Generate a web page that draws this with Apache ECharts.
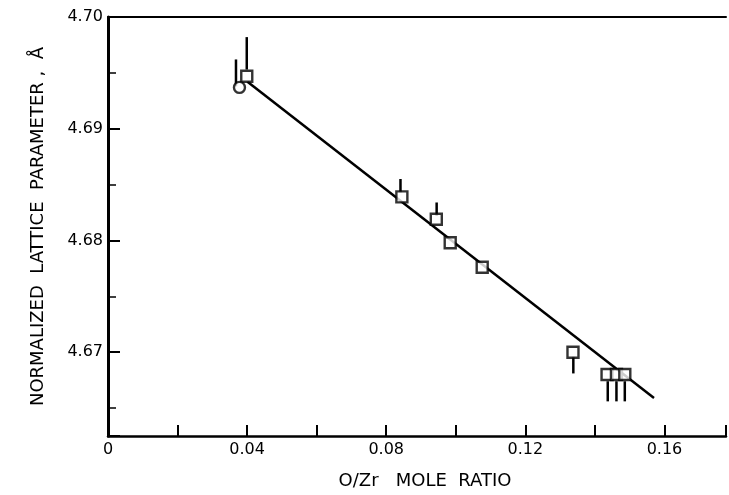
<!DOCTYPE html>
<html><head><meta charset="utf-8">
<script src="https://cdn.jsdelivr.net/npm/echarts@6/dist/echarts.min.js"></script>
<style>html,body{margin:0;padding:0;background:#fff}#c{width:729px;height:495px}</style>
</head><body><div id="c"></div>
<script>
// Tick labels
const xTickLabels = ['0', '0.04', '0.08', '0.12', '0.16'];
const yTickLabels = ['4.67', '4.68', '4.69', '4.70'];
// Square data points (O/Zr ratio, lattice parameter)
const squareX = [0.0399, 0.0845, 0.0944, 0.0984, 0.1076, 0.1337, 0.1435, 0.1462, 0.1486];
const squareY = [4.6947, 4.6839, 4.6819, 4.6798, 4.6776, 4.6700, 4.6680, 4.6680, 4.6680];
// Circle data point
const circleX = [0.0378];
const circleY = [4.6937];
// Error bars (x, low, high)
const barX = [0.0399, 0.0368, 0.0841, 0.0945, 0.1338, 0.1437, 0.1462, 0.1486];
const barLow = [4.6953, 4.6938, 4.6843, 4.6822, 4.6681, 4.6656, 4.6656, 4.6656];
const barHigh = [4.6982, 4.6962, 4.6855, 4.6834, 4.6696, 4.6674, 4.6674, 4.6674];
// Fitted line end points
const fitX = [0.0401, 0.157];
const fitY = [4.6942, 4.6659];

const FONT = 'DejaVu Sans';
function matchLabel(list, v) {
  for (const s of list) { if (Math.abs(parseFloat(s) - v) < 1e-7) return s; }
  return '';
}

const chart = echarts.init(document.getElementById('c'), null, {renderer: 'canvas'});
chart.setOption({
  animation: false,
  backgroundColor: '#fff',
  grid: {left: 108, right: 0, top: 17, bottom: 57, containLabel: false},
  xAxis: [{
    type: 'value', min: 0, max: 0.1777, interval: 0.02,
    name: 'O/Zr   MOLE  RATIO', nameLocation: 'middle', nameGap: 36,
    nameTextStyle: {fontFamily: FONT, fontSize: 18, color: '#000', padding: [0, 0, 0, 16]},
    axisLine: {show: true, lineStyle: {color: '#000', width: 2.5}},
    axisTick: {show: true, inside: true, length: 11, lineStyle: {color: '#000', width: 2}},
    axisLabel: {fontFamily: FONT, fontSize: 16, color: '#000', margin: 6,
      formatter: v => matchLabel(xTickLabels, v)},
    splitLine: {show: false}
  }, {
    type: 'value', position: 'top', min: 0, max: 0.1777,
    axisLine: {show: true, lineStyle: {color: '#000', width: 2}},
    axisTick: {show: false}, axisLabel: {show: false}, splitLine: {show: false}
  }],
  yAxis: {
    type: 'value', min: 4.6625, max: 4.70, minInterval: 0.01, maxInterval: 0.01,
    name: 'NORMALIZED  LATTICE  PARAMETER ,  Å', nameLocation: 'middle', nameGap: 61,
    nameTextStyle: {fontFamily: FONT, fontSize: 18, color: '#000'},
    axisLine: {show: true, lineStyle: {color: '#000', width: 3}},
    axisTick: {show: true, inside: true, length: 12, lineStyle: {color: '#000', width: 2}},
    minorTick: {show: true, splitNumber: 2, length: 8, lineStyle: {color: '#000', width: 1.5}},
    axisLabel: {fontFamily: FONT, fontSize: 16, color: '#000', margin: 5,
      formatter: v => matchLabel(yTickLabels, v)},
    splitLine: {show: false}
  },
  series: [
    {
      type: 'line', data: fitX.map((x, i) => [x, fitY[i]]),
      symbol: 'none', lineStyle: {color: '#000', width: 2.5}, z: 2
    },
    {
      type: 'custom', z: 3,
      data: barX.map((x, i) => [x, barLow[i], barHigh[i]]),
      encode: {x: 0, y: [1, 2]},
      renderItem: (params, api) => {
        const p1 = api.coord([api.value(0), api.value(1)]);
        const p2 = api.coord([api.value(0), api.value(2)]);
        return {type: 'line', shape: {x1: p1[0], y1: p1[1], x2: p2[0], y2: p2[1]},
          style: {stroke: '#000', lineWidth: 2.5}};
      }
    },
    {
      type: 'scatter', z: 4, data: squareX.map((x, i) => [x, squareY[i]]),
      symbol: 'rect', symbolSize: 11,
      itemStyle: {color: '#fff', borderColor: '#000', borderWidth: 2.4}
    },
    {
      type: 'scatter', z: 4, data: circleX.map((x, i) => [x, circleY[i]]),
      symbol: 'circle', symbolSize: 11,
      itemStyle: {color: '#fff', borderColor: '#000', borderWidth: 2.4}
    }
  ]
});
</script></body></html>
